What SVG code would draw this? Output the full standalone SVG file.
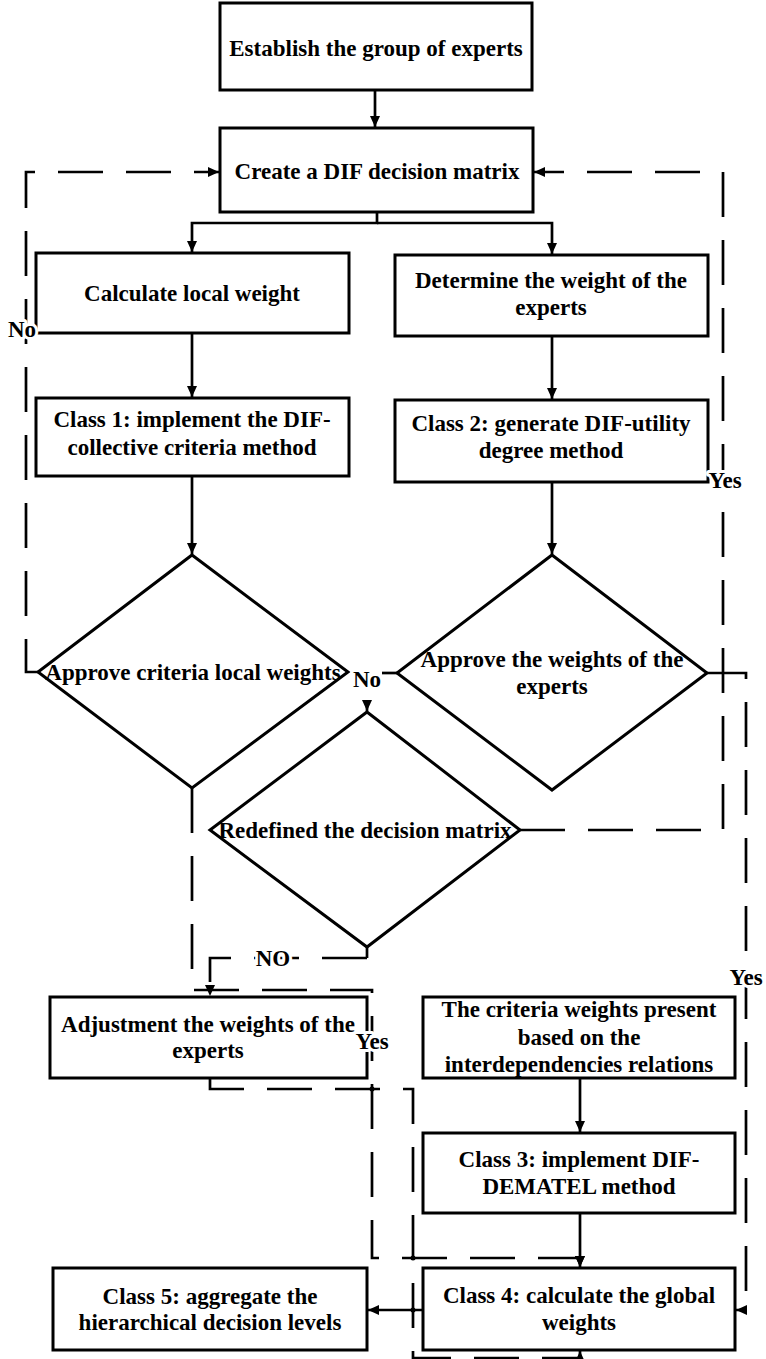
<svg xmlns="http://www.w3.org/2000/svg" width="766" height="1359" viewBox="0 0 766 1359">
<style>
.box{fill:#fff;stroke:#000;stroke-width:3}
.t{font-family:"Liberation Serif","Times New Roman",serif;font-weight:bold;font-size:23px;text-anchor:middle;fill:#000}
.lbl{font-family:"Liberation Serif","Times New Roman",serif;font-weight:bold;font-size:23px;text-anchor:middle;fill:#000;stroke:#fff;stroke-width:6;paint-order:stroke;stroke-linejoin:round}
.ln{fill:none;stroke:#000;stroke-width:2.7}
.d{stroke-dasharray:45 23}
</style>
<defs>
<marker id="ah" viewBox="0 0 11 10" refX="11" refY="5" markerWidth="11" markerHeight="10" markerUnits="userSpaceOnUse" orient="auto">
<path d="M0,0 L11,5 L0,10 z" fill="#000"/>
</marker>
</defs>
<rect width="766" height="1359" fill="#fff"/>
<g id="connectors">
<path class="ln" d="M375,90 V127" marker-end="url(#ah)"/>
<path class="ln" d="M377,212 V223 H192 V252" marker-end="url(#ah)"/>
<path class="ln" d="M377,223 H552 V254" marker-end="url(#ah)"/>
<path class="ln" d="M192,333 V397" marker-end="url(#ah)"/>
<path class="ln" d="M552,336 V399" marker-end="url(#ah)"/>
<path class="ln" d="M192,476 V554" marker-end="url(#ah)"/>
<path class="ln" d="M552,482 V554" marker-end="url(#ah)"/>
<path class="ln" d="M397,673 H382"/>
<path class="ln" d="M367,700 V711" marker-end="url(#ah)"/>
<path class="ln" d="M367,947 V958"/>
<path class="ln" d="M580,1078 V1132" marker-end="url(#ah)"/>
<path class="ln" d="M580,1213 V1267" marker-end="url(#ah)"/>
<path class="ln" d="M423,1310 H368" marker-end="url(#ah)"/>
<path class="ln d" d="M38,672 H26 V172 H219" marker-end="url(#ah)"/>
<path class="ln d" d="M520,830 H723 V172 H534" marker-end="url(#ah)"/>
<path class="ln d" d="M707,673 H746 V1310 H736" marker-end="url(#ah)"/>
<path class="ln d" d="M192,788 V990 H372 V1258 H580 V1267" marker-end="url(#ah)"/>
<path class="ln d" d="M210,1078 V1089 H413 V1358 H580 V1351" marker-end="url(#ah)"/>
<path class="ln d" d="M367,958 H210 V996" marker-end="url(#ah)"/>
<circle cx="372" cy="1089" r="2.5" fill="#000"/>
<circle cx="413" cy="1258" r="2.5" fill="#000"/>
<circle cx="413" cy="1310" r="2.5" fill="#000"/>
</g>
<g id="n1"><rect class="box" x="220" y="3" width="312" height="87"/><text class="t" x="376" y="56">Establish the group of experts</text></g>
<g id="n2"><rect class="box" x="220" y="128" width="313" height="84"/><text class="t" x="377" y="179">Create a DIF decision matrix</text></g>
<g id="n3"><rect class="box" x="36" y="253" width="313" height="80"/><text class="t" x="192" y="301">Calculate local weight</text></g>
<g id="n4"><rect class="box" x="395" y="255" width="313" height="81"/><text class="t" x="551" y="288">Determine the weight of the</text><text class="t" x="551" y="315">experts</text></g>
<g id="n5"><rect class="box" x="36" y="398" width="313" height="78"/><text class="t" x="192" y="427">Class 1: implement the DIF-</text><text class="t" x="192" y="455">collective criteria method</text></g>
<g id="n6"><rect class="box" x="395" y="400" width="313" height="82"/><text class="t" x="551" y="431">Class 2: generate DIF-utility</text><text class="t" x="551" y="458">degree method</text></g>
<g id="n7"><polygon class="box" points="192,555 348,672 192,788 38,672"/><text class="t" x="193" y="680">Approve criteria local weights</text></g>
<g id="n8"><polygon class="box" points="552,555 707,673 552,790 397,673"/><text class="t" x="552" y="667">Approve the weights of the</text><text class="t" x="552" y="694">experts</text></g>
<g id="n9"><polygon class="box" points="367,712 520,830 367,947 210,830"/><text class="t" x="365" y="838">Redefined the decision matrix</text></g>
<g id="n10"><rect class="box" x="50" y="997" width="317" height="81"/><text class="t" x="208" y="1032">Adjustment the weights of the</text><text class="t" x="208" y="1058">experts</text></g>
<g id="n11"><rect class="box" x="423" y="997" width="312" height="81"/><text class="t" x="579" y="1017">The criteria weights present</text><text class="t" x="579" y="1045">based on the</text><text class="t" x="579" y="1072">interdependencies relations</text></g>
<g id="n12"><rect class="box" x="423" y="1133" width="312" height="80"/><text class="t" x="579" y="1167">Class 3: implement DIF-</text><text class="t" x="579" y="1194">DEMATEL method</text></g>
<g id="n13"><rect class="box" x="423" y="1268" width="312" height="82"/><text class="t" x="579" y="1303">Class 4: calculate the global</text><text class="t" x="579" y="1330">weights</text></g>
<g id="n14"><rect class="box" x="53" y="1268" width="314" height="82"/><text class="t" x="210" y="1304">Class 5: aggregate the</text><text class="t" x="210" y="1330">hierarchical decision levels</text></g>
<g id="labels">
<text class="lbl" x="22" y="337">No</text>
<text class="lbl" x="367" y="687">No</text>
<text class="lbl" x="725" y="488">Yes</text>
<text class="lbl" x="746" y="985">Yes</text>
<text class="lbl" x="372" y="1049">Yes</text>
<text class="lbl" x="273" y="966">NO</text>
</g>
</svg>
